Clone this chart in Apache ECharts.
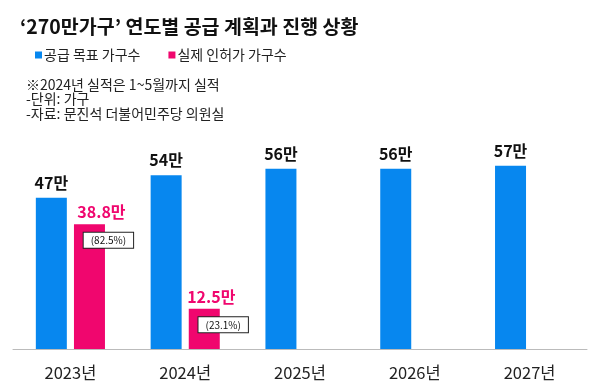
<!DOCTYPE html>
<html><head><meta charset="utf-8">
<script src="https://cdn.jsdelivr.net/npm/echarts@6/dist/echarts.min.js"></script>
<style>html,body{margin:0;padding:0;background:#fff}#c{width:600px;height:388px}</style>
</head><body><div id="c"></div>
<script>
var categories = ['2023년', '2024년', '2025년', '2026년', '2027년'];
var targetValues = [47, 54, 56, 56, 57];
var actualValues = [38.8, 12.5, null, null, null];
var actualPct = ['82.5%', '23.1%', null, null, null];
var seriesNames = ['공급 목표 가구수', '실제 인허가 가구수'];
var titleText = '‘270만가구’ 연도별 공급 계획과 진행 상황';
var noteLines = ['※2024년 실적은 1~5월까지 실적', '-단위: 가구', '-자료: 문진석 더불어민주당 의원실'];

var FONT = "'Noto Sans CJK KR', 'Noto Sans', sans-serif";
var BLUE = '#0787EF', PINK = '#F0066E';
var pinkOffsets = [[12, 0], [7, 0]];

var chart = echarts.init(document.getElementById('c'), null, {renderer: 'canvas'});
chart.setOption({
  animation: false,
  textStyle: {fontFamily: FONT},
  title: [
    {text: titleText, left: 15, top: 12, textStyle: {fontFamily: FONT, fontSize: 19.5, fontWeight: 'bold', color: '#111'}},
    {text: noteLines.join('\n'), left: 21, top: 72, textStyle: {fontFamily: FONT, fontSize: 14, fontWeight: 'normal', color: '#222', lineHeight: 14.5}}
  ],
  legend: {
    data: seriesNames, left: 30, top: 43, icon: 'rect', itemWidth: 7, itemHeight: 7, itemGap: 28,
    textStyle: {fontFamily: FONT, fontSize: 14, color: '#222', padding: [0, 0, 0, -3]}
  },
  grid: {left: 13, right: 13, top: 156, bottom: 39},
  xAxis: {
    type: 'category', data: categories,
    axisLine: {lineStyle: {color: '#bbb', width: 1}}, axisTick: {show: false},
    axisLabel: {fontFamily: FONT, fontSize: 16.5, color: '#222', margin: 15}
  },
  yAxis: {type: 'value', min: 0, max: 60, show: false, splitLine: {show: false}},
  series: [
    {
      name: seriesNames[0], type: 'bar', data: targetValues, barWidth: 31, barGap: '23%',
      itemStyle: {color: BLUE},
      label: {show: true, position: 'top', distance: 7, fontFamily: FONT, fontSize: 16, fontWeight: 'bold', color: '#111',
        formatter: function (p) { return p.value + '만'; }}
    },
    {
      name: seriesNames[1], type: 'bar', barWidth: 31,
      data: actualValues.map(function (v, i) {
        return v == null ? '-' : {value: v, label: {offset: pinkOffsets[i] || [0, 0]}};
      }),
      itemStyle: {color: PINK},
      label: {show: true, position: 'top', distance: 4, fontFamily: FONT, fontSize: 16, fontWeight: 'bold', color: PINK,
        formatter: function (p) { return p.value + '만'; }}
    },
    {
      name: 'pct', type: 'scatter', symbolSize: 0, silent: true,
      data: actualValues.map(function (v) { return v == null ? '-' : v; }),
      itemStyle: {opacity: 1},
      label: {show: true, position: 'inside', offset: [38, 16], fontFamily: FONT, fontSize: 10, color: '#111',
        backgroundColor: '#ffffff', borderColor: '#222', borderWidth: 1, padding: [3, 7, 2, 7],
        formatter: function (p) { return '(' + actualPct[p.dataIndex] + ')'; }},
      z: 5
    }
  ]
});
</script></body></html>
